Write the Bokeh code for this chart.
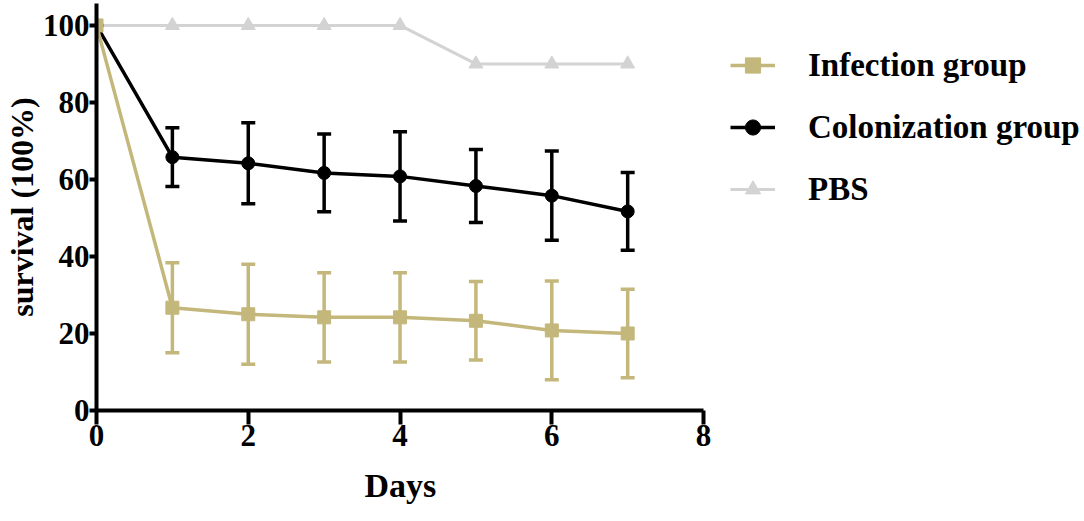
from bokeh.plotting import figure
from bokeh.models import Range1d, Whisker, TeeHead, ColumnDataSource, Legend, LegendItem, FixedTicker, Title
from bokeh.embed import file_html
from bokeh.resources import INLINE

days = [0, 1, 2, 3, 4, 5, 6, 7]
infection = [100, 26.7, 25.0, 24.2, 24.2, 23.3, 20.8, 20.0]
infection_err = [0, 11.7, 13.0, 11.6, 11.6, 10.2, 12.8, 11.5]
colonization = [100, 65.8, 64.2, 61.7, 60.8, 58.3, 55.8, 51.7]
colonization_err = [0, 7.6, 10.5, 10.1, 11.6, 9.5, 11.6, 10.1]
pbs = [100, 100, 100, 100, 100, 90, 90, 90]
x_ticks = [0, 2, 4, 6, 8]
y_ticks = [0, 20, 40, 60, 80, 100]
series_names = ["Infection group", "Colonization group", "PBS"]
x_label = "Days"
y_label = "survival (100%)"

C_INF = "#C4B77B"
C_COL = "#000000"
C_PBS = "#D3D3D3"
FONT = "Liberation Serif"

# frame spans to the right edge so the legend can sit beside the data; the x axis is bounded to 0..8
p = figure(width=1084, height=521, output_backend="svg", toolbar_location=None,
           x_range=Range1d(0, 13.02), y_range=Range1d(0, 105.7),
           min_border_left=93, min_border_right=0, min_border_top=3, min_border_bottom=111)
p.outline_line_color = None
p.grid.visible = False
p.background_fill_color = "white"

for ax in (p.xaxis[0], p.yaxis[0]):
    ax.axis_line_width = 4
    ax.major_tick_line_width = 4
    ax.minor_tick_line_color = None
    ax.major_tick_in = 0
    ax.major_label_text_font = FONT
    ax.major_label_text_font_style = "bold"
    ax.major_label_text_font_size = "31px"
    ax.major_label_text_color = "black"
    ax.axis_label_text_font = FONT
    ax.axis_label_text_font_style = "bold"
    ax.axis_label_text_font_size = "32px"
    ax.axis_label_text_color = "black"

p.xaxis.ticker = FixedTicker(ticks=x_ticks)
p.yaxis.ticker = FixedTicker(ticks=y_ticks)
p.xaxis.bounds = (0, 8)
p.xaxis.major_tick_out = 14
p.yaxis.major_tick_out = 7
p.xaxis.major_label_standoff = 0
p.yaxis.major_label_standoff = 0
p.yaxis.axis_label = y_label
p.yaxis.axis_label_standoff = 0

# x axis title, placed under the bounded 0..8 axis
p.add_layout(Title(text=x_label, align="left", offset=268, standoff=33,
                   text_font=FONT, text_font_style="bold", text_font_size="34px",
                   text_color="black"), "below")

# PBS
r_pbs_l = p.line(days, pbs, line_color=C_PBS, line_width=3)
r_pbs_m = p.scatter(days[1:], pbs[1:], marker="triangle", size=14, fill_color=C_PBS, line_color=C_PBS)

# Colonization
col_src = ColumnDataSource(dict(x=days[1:], upper=[m + e for m, e in zip(colonization[1:], colonization_err[1:])],
                                lower=[m - e for m, e in zip(colonization[1:], colonization_err[1:])]))
p.add_layout(Whisker(source=col_src, base="x", upper="upper", lower="lower", line_color=C_COL, line_width=3.5,
                     upper_head=TeeHead(size=14, line_color=C_COL, line_width=3.5),
                     lower_head=TeeHead(size=14, line_color=C_COL, line_width=3.5)))
r_col_l = p.line(days, colonization, line_color=C_COL, line_width=3.5)
r_col_m = p.scatter(days, colonization, marker="circle", size=13, fill_color=C_COL, line_color=C_COL)

# Infection
inf_src = ColumnDataSource(dict(x=days[1:], upper=[m + e for m, e in zip(infection[1:], infection_err[1:])],
                                lower=[m - e for m, e in zip(infection[1:], infection_err[1:])]))
p.add_layout(Whisker(source=inf_src, base="x", upper="upper", lower="lower", line_color=C_INF, line_width=3.5,
                     upper_head=TeeHead(size=14, line_color=C_INF, line_width=3.5),
                     lower_head=TeeHead(size=14, line_color=C_INF, line_width=3.5)))
r_inf_l = p.line(days, infection, line_color=C_INF, line_width=3.5)
r_inf_m = p.scatter(days, infection, marker="square", size=13, fill_color=C_INF, line_color=C_INF)

legend = Legend(items=[
    LegendItem(label=series_names[0], renderers=[r_inf_l, r_inf_m]),
    LegendItem(label=series_names[1], renderers=[r_col_l, r_col_m]),
    LegendItem(label=series_names[2], renderers=[r_pbs_l, r_pbs_m]),
], location=(634, 202))
legend.margin = 0
legend.padding = 0
legend.glyph_width = 45
legend.glyph_height = 38
legend.label_height = 38
legend.spacing = 24
legend.label_standoff = 33
legend.label_text_font = FONT
legend.label_text_font_style = "bold"
legend.label_text_font_size = "33px"
legend.label_text_color = "black"
legend.border_line_alpha = 0
legend.background_fill_alpha = 0
p.add_layout(legend, "center")

open("out.html", "w").write(file_html(p, INLINE))
